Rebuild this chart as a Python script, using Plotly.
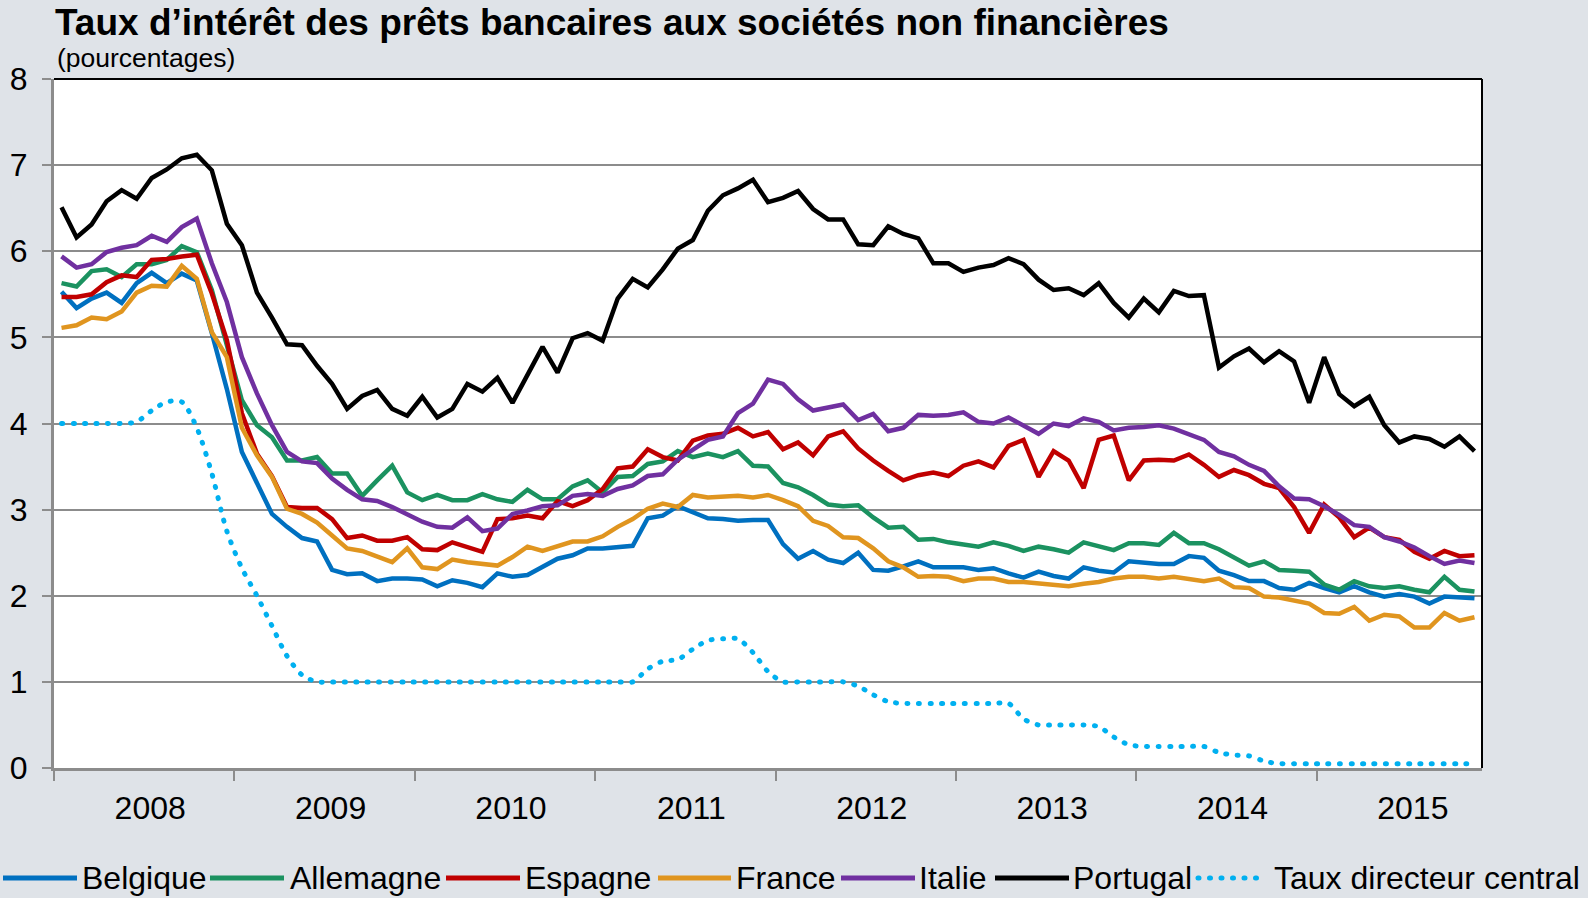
import plotly.graph_objects as go

# Données mensuelles, janvier 2008 - novembre 2015 (pourcentages)
annees = ["2008", "2009", "2010", "2011", "2012", "2013", "2014", "2015"]

belgique = [5.53, 5.34, 5.45, 5.52, 5.40, 5.63, 5.75, 5.63, 5.74, 5.66, 5.05, 4.40,
            3.67, 3.30, 2.95, 2.80, 2.67, 2.63, 2.30, 2.25, 2.26, 2.17, 2.20, 2.20,
            2.19, 2.11, 2.18, 2.15, 2.10, 2.26, 2.22, 2.24, 2.33, 2.43, 2.47, 2.55,
            2.55, 2.57, 2.58, 2.90, 2.93, 3.04, 2.97, 2.90, 2.89, 2.87, 2.88, 2.88,
            2.60, 2.43, 2.52, 2.42, 2.38, 2.50, 2.30, 2.29, 2.34, 2.40, 2.33, 2.33,
            2.33, 2.30, 2.32, 2.26, 2.21, 2.28, 2.23, 2.20, 2.33, 2.29, 2.27, 2.40,
            2.38, 2.37, 2.37, 2.46, 2.44, 2.29, 2.24, 2.17, 2.17, 2.09, 2.07, 2.15,
            2.09, 2.04, 2.11, 2.04, 1.99, 2.02, 1.99, 1.91, 1.99, 1.98, 1.97]

allemagne = [5.63, 5.59, 5.77, 5.79, 5.70, 5.85, 5.85, 5.90, 6.06, 5.99, 5.55, 4.93,
             4.27, 3.98, 3.84, 3.57, 3.57, 3.61, 3.42, 3.42, 3.16, 3.34, 3.51, 3.20,
             3.11, 3.17, 3.11, 3.11, 3.18, 3.12, 3.09, 3.23, 3.12, 3.12, 3.27, 3.34,
             3.20, 3.38, 3.39, 3.53, 3.56, 3.68, 3.61, 3.65, 3.61, 3.68, 3.51, 3.50,
             3.31, 3.26, 3.17, 3.06, 3.04, 3.05, 2.91, 2.79, 2.80, 2.65, 2.66, 2.62,
             2.60, 2.57, 2.62, 2.58, 2.52, 2.57, 2.54, 2.50, 2.62, 2.58, 2.53, 2.61,
             2.61, 2.59, 2.73, 2.61, 2.61, 2.54, 2.45, 2.35, 2.40, 2.30, 2.29, 2.28,
             2.13, 2.07, 2.17, 2.11, 2.09, 2.11, 2.07, 2.04, 2.22, 2.07, 2.05]

espagne = [5.47, 5.47, 5.50, 5.64, 5.72, 5.70, 5.90, 5.91, 5.94, 5.96, 5.51, 4.97,
           4.12, 3.65, 3.39, 3.03, 3.02, 3.02, 2.89, 2.67, 2.70, 2.64, 2.64, 2.68,
           2.54, 2.53, 2.62, 2.57, 2.51, 2.89, 2.90, 2.93, 2.90, 3.10, 3.04, 3.11,
           3.24, 3.48, 3.50, 3.70, 3.61, 3.57, 3.80, 3.86, 3.88, 3.95, 3.85, 3.90,
           3.70, 3.78, 3.63, 3.85, 3.91, 3.71, 3.57, 3.45, 3.34, 3.40, 3.43, 3.39,
           3.51, 3.56, 3.49, 3.74, 3.81, 3.38, 3.68, 3.57, 3.25, 3.81, 3.86, 3.34,
           3.57, 3.58, 3.57, 3.64, 3.52, 3.38, 3.46, 3.40, 3.30, 3.25, 3.03, 2.73,
           3.06, 2.91, 2.68, 2.79, 2.68, 2.65, 2.51, 2.43, 2.52, 2.46, 2.47]

france = [5.11, 5.14, 5.23, 5.21, 5.30, 5.52, 5.60, 5.59, 5.83, 5.68, 5.06, 4.77,
          3.95, 3.63, 3.38, 3.01, 2.95, 2.85, 2.70, 2.55, 2.52, 2.45, 2.39, 2.55,
          2.33, 2.31, 2.42, 2.39, 2.37, 2.35, 2.45, 2.57, 2.52, 2.58, 2.63, 2.63,
          2.69, 2.80, 2.89, 3.01, 3.07, 3.03, 3.17, 3.14, 3.15, 3.16, 3.14, 3.17,
          3.11, 3.04, 2.87, 2.81, 2.68, 2.67, 2.55, 2.40, 2.33, 2.22, 2.23, 2.22,
          2.17, 2.20, 2.20, 2.16, 2.16, 2.14, 2.13, 2.11, 2.14, 2.16, 2.20, 2.22,
          2.22, 2.20, 2.22, 2.19, 2.17, 2.20, 2.10, 2.09, 1.99, 1.98, 1.94, 1.91,
          1.80, 1.79, 1.87, 1.71, 1.78, 1.76, 1.63, 1.63, 1.80, 1.71, 1.75]

italie = [5.94, 5.81, 5.85, 5.99, 6.04, 6.07, 6.18, 6.11, 6.28, 6.38, 5.86, 5.41,
          4.77, 4.35, 3.98, 3.67, 3.56, 3.54, 3.36, 3.23, 3.12, 3.10, 3.03, 2.95,
          2.86, 2.80, 2.79, 2.91, 2.75, 2.78, 2.95, 2.99, 3.04, 3.05, 3.16, 3.18,
          3.16, 3.24, 3.28, 3.39, 3.41, 3.58, 3.69, 3.81, 3.85, 4.12, 4.23, 4.51,
          4.46, 4.28, 4.15, 4.18, 4.22, 4.04, 4.11, 3.91, 3.95, 4.10, 4.09, 4.10,
          4.13, 4.02, 4.00, 4.07, 3.98, 3.88, 4.00, 3.97, 4.06, 4.02, 3.92, 3.95,
          3.96, 3.98, 3.94, 3.87, 3.81, 3.67, 3.62, 3.52, 3.45, 3.27, 3.13, 3.12,
          3.04, 2.94, 2.82, 2.80, 2.68, 2.63, 2.56, 2.46, 2.37, 2.41, 2.38]

portugal = [6.51, 6.16, 6.31, 6.58, 6.71, 6.61, 6.85, 6.95, 7.08, 7.12, 6.94, 6.32,
            6.07, 5.52, 5.23, 4.92, 4.91, 4.67, 4.46, 4.17, 4.32, 4.39, 4.17, 4.09,
            4.31, 4.07, 4.17, 4.46, 4.37, 4.53, 4.24, 4.56, 4.89, 4.59, 4.99, 5.05,
            4.96, 5.45, 5.68, 5.58, 5.79, 6.03, 6.13, 6.47, 6.65, 6.73, 6.83, 6.57,
            6.62, 6.70, 6.49, 6.37, 6.37, 6.08, 6.07, 6.29, 6.20, 6.15, 5.86, 5.86,
            5.76, 5.81, 5.84, 5.92, 5.85, 5.67, 5.55, 5.57, 5.49, 5.63, 5.40, 5.23,
            5.45, 5.29, 5.54, 5.48, 5.49, 4.65, 4.78, 4.87, 4.71, 4.84, 4.72, 4.24,
            4.77, 4.34, 4.20, 4.31, 3.98, 3.78, 3.85, 3.82, 3.73, 3.85, 3.68]

taux_directeur = [4.00, 4.00, 4.00, 4.00, 4.00, 4.02, 4.15, 4.25, 4.25, 3.95, 3.42, 2.75,
                  2.32, 2.00, 1.65, 1.30, 1.08, 1.00, 1.00, 1.00, 1.00, 1.00, 1.00, 1.00,
                  1.00, 1.00, 1.00, 1.00, 1.00, 1.00, 1.00, 1.00, 1.00, 1.00, 1.00, 1.00,
                  1.00, 1.00, 1.00, 1.15, 1.24, 1.26, 1.38, 1.48, 1.50, 1.50, 1.34, 1.12,
                  1.00, 1.00, 1.00, 1.00, 1.00, 0.95, 0.85, 0.77, 0.75, 0.75, 0.75, 0.75,
                  0.75, 0.75, 0.75, 0.75, 0.57, 0.50, 0.50, 0.50, 0.50, 0.48, 0.36, 0.27,
                  0.25, 0.25, 0.25, 0.25, 0.25, 0.18, 0.15, 0.14, 0.08, 0.05, 0.05, 0.05,
                  0.05, 0.05, 0.05, 0.05, 0.05, 0.05, 0.05, 0.05, 0.05, 0.05, 0.05]

mois = list(range(len(belgique)))

series = [
    ("Belgique", belgique, "#0070C0"),
    ("Allemagne", allemagne, "#1B9260"),
    ("Espagne", espagne, "#C00000"),
    ("France", france, "#E0951F"),
    ("Italie", italie, "#7030A0"),
    ("Portugal", portugal, "#000000"),
]
couleur_taux = "#00B0F0"
POINTILLE = "1px,10.5px"

# Géométrie de la figure (pixels)
W, H = 1588, 898
L, R, T, B = 54, 106, 79, 130
PW, PH = W - L - R, H - T - B


def px(x):
    return (x - L) / PW


def py(y):
    return (H - B - y) / PH


FONT = "Arial, Liberation Sans, sans-serif"
GRIS = "#8C8C8C"

fig = go.Figure()

for nom, valeurs, couleur in series:
    fig.add_trace(go.Scatter(
        x=mois, y=valeurs, mode="lines", name=nom,
        line=dict(color=couleur, width=4.5),
        showlegend=False, hoverinfo="skip"
    ))

fig.add_trace(go.Scatter(
    x=mois, y=taux_directeur, mode="lines", name="Taux directeur central",
    line=dict(color=couleur_taux, width=5, dash=POINTILLE, shape="spline", smoothing=0.8),
    showlegend=False, hoverinfo="skip"
))

# Légende dessinée à la main (traits longs comme dans l'original)
legende = [
    ("Belgique", "#0070C0", 3, 77, 80, "solid"),
    ("Allemagne", "#1B9260", 210, 284, 288, "solid"),
    ("Espagne", "#C00000", 446, 520, 523, "solid"),
    ("France", "#E0951F", 658, 731, 734, "solid"),
    ("Italie", "#7030A0", 841, 915, 917, "solid"),
    ("Portugal", "#000000", 995, 1069, 1071, "solid"),
    ("Taux directeur central", couleur_taux, 1198, 1266, 1272, "dot"),
]
y_leg = 878
shapes = []
annotations = []
for texte, couleur, x0, x1, xt, style in legende:
    shapes.append(dict(
        type="line", xref="paper", yref="paper",
        x0=px(x0), x1=px(x1), y0=py(y_leg), y1=py(y_leg),
        line=dict(color=couleur, width=5, dash=POINTILLE if style == "dot" else "solid")
    ))
    annotations.append(dict(
        text=texte, xref="paper", yref="paper", x=px(xt), y=py(y_leg),
        xanchor="left", yanchor="middle", showarrow=False,
        font=dict(family=FONT, size=32, color="black")
    ))

# Bordure noire en haut et à droite de la zone de tracé
shapes.append(dict(type="line", xref="paper", yref="paper", x0=0, x1=1, y0=1, y1=1,
                   line=dict(color="black", width=2)))
shapes.append(dict(type="line", xref="paper", yref="paper", x0=1, x1=1, y0=0, y1=1,
                   line=dict(color="black", width=2)))

annotations.append(dict(
    text="(pourcentages)", xref="paper", yref="paper", x=px(55), y=py(58),
    xanchor="left", yanchor="middle", showarrow=False,
    font=dict(family=FONT, size=26.5, color="black")
))

fig.update_layout(
    width=W, height=H,
    margin=dict(l=L, r=R, t=T, b=B, pad=0),
    paper_bgcolor="#DFE3E8",
    plot_bgcolor="white",
    title=dict(
        text="Taux d’intérêt des prêts bancaires aux sociétés non financières",
        x=55 / W, xanchor="left", xref="container",
        y=1 - 22 / H, yanchor="middle", yref="container",
        font=dict(family=FONT, size=37, color="black", weight="bold")
    ),
    xaxis=dict(
        range=[-0.5, len(mois) - 0.5],
        tickmode="array",
        tickvals=[5.9 + 12 * k for k in range(len(annees))],
        ticktext=annees,
        ticks="",
        ticklabelstandoff=10,
        tickfont=dict(family=FONT, size=32, color="black"),
        showgrid=False, zeroline=False,
        showline=True, linecolor=GRIS, linewidth=3,
        minor=dict(
            tickmode="array",
            tickvals=[-0.5 + 12 * k for k in range(len(annees))],
            ticks="outside", ticklen=10, tickwidth=2, tickcolor=GRIS, showgrid=False
        ),
        automargin=False, fixedrange=True
    ),
    yaxis=dict(
        range=[0, 8], dtick=1,
        ticks="outside", ticklen=9, tickwidth=2, tickcolor=GRIS,
        ticklabelstandoff=8,
        tickfont=dict(family=FONT, size=32, color="black"),
        showgrid=True, gridcolor=GRIS, gridwidth=2,
        zeroline=False,
        showline=True, linecolor=GRIS, linewidth=3,
        automargin=False, fixedrange=True
    ),
    shapes=shapes,
    annotations=annotations,
    showlegend=False
)

# Page sans marge, et pointillés arrondis comme dans l'original
script_page = """
document.body.style.margin = '0';
document.querySelectorAll('path').forEach(function (p) {
    if ((p.style.strokeDasharray || '').indexOf('10.5') >= 0) {
        p.style.strokeLinecap = 'round';
    }
});
"""

fig.write_html("out.html", post_script=script_page, config={"displayModeBar": False})
